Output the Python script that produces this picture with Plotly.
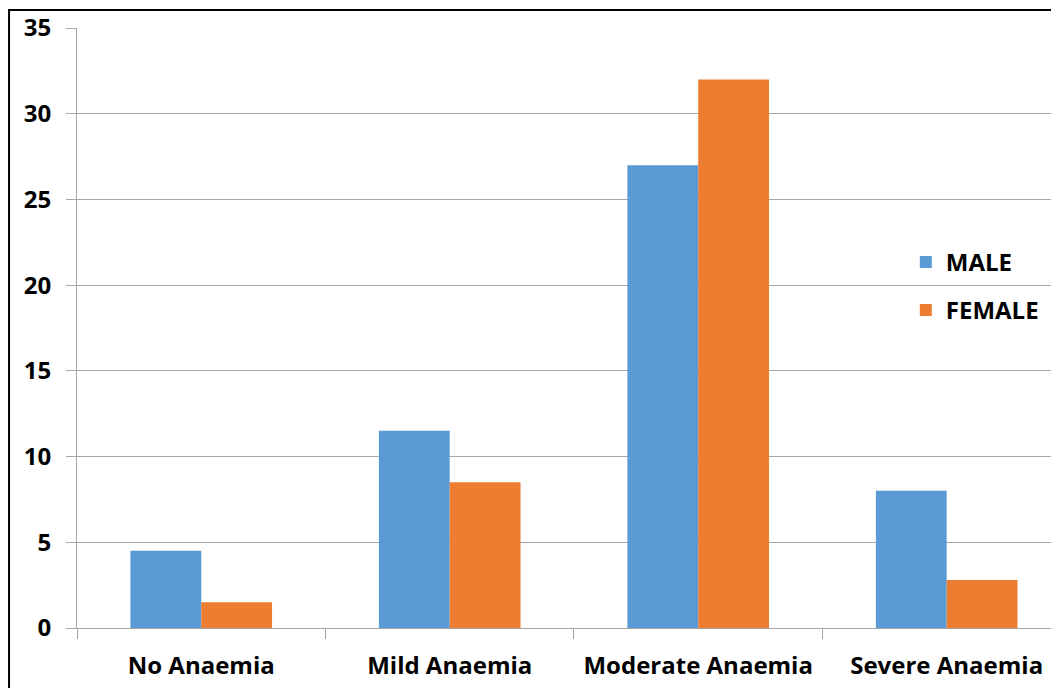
import plotly.graph_objects as go

categories = ["No Anaemia", "Mild Anaemia", "Moderate Anaemia", "Severe Anaemia"]
male = [4.5, 11.5, 27, 8]
female = [1.5, 8.5, 32, 2.8]
y_ticks = [0, 5, 10, 15, 20, 25, 30, 35]

FONT = "Open Sans"
FS = 24
fig = go.Figure()
fig.add_trace(go.Bar(name="MALE", x=categories, y=male, marker_color="#5b9bd5",
                     marker_line_width=0, legendgroup="m"))
fig.add_trace(go.Bar(name="FEMALE", x=categories, y=female, marker_color="#ed7d31",
                     marker_line_width=0, legendgroup="f"))

fig.update_layout(
    width=1051, height=680,
    margin=dict(l=69, r=0, t=20, b=60),
    paper_bgcolor="white", plot_bgcolor="white",
    barmode="group", bargap=0.43, bargroupgap=0,
    font=dict(family=FONT, size=FS, color="#000000"),
    legend=dict(x=0.844, y=0.647, xanchor="left", yanchor="top",
                bgcolor="rgba(0,0,0,0)", tracegroupgap=14,
                font=dict(family=FONT, size=FS, color="#000000", weight="bold")),
    showlegend=True,
)
fig.update_xaxes(
    range=[-0.5, 3.452], showgrid=False,
    showline=True, linecolor="#a6a6a6", linewidth=1,
    ticks="outside", tickson="boundaries", ticklen=10, tickcolor="#a6a6a6",
    ticklabelstandoff=16,
    tickfont=dict(family=FONT, size=FS, color="#000000", weight="bold"),
)
fig.update_yaxes(
    range=[0, 35], tickvals=y_ticks, showgrid=True, gridcolor="#a6a6a6", gridwidth=1,
    showline=True, linecolor="#a6a6a6", linewidth=1,
    ticks="outside", ticklen=10, tickcolor="#a6a6a6", ticklabelstandoff=10,
    tickfont=dict(family=FONT, size=FS, color="#000000", weight="bold"),
    zeroline=False,
)
# outer chart border (partially cropped in reference)
fig.add_shape(type="rect", xref="paper", yref="paper",
              x0=-0.0692, x1=1.05, y0=-0.3, y1=1.03,
              line=dict(color="black", width=2), fillcolor="rgba(0,0,0,0)", layer="above")

fig.write_html("out.html")
